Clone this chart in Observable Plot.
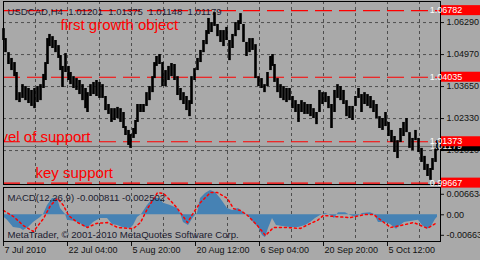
<!DOCTYPE html>
<html>
<head>
<meta charset="utf-8">
<script src="https://cdn.jsdelivr.net/npm/d3@7"></script>
<script src="https://cdn.jsdelivr.net/npm/@observablehq/plot@0.6"></script>
<style>
  html, body { margin: 0; padding: 0; background: #a9a9a9; }
  #chart { position: relative; width: 480px; height: 260px; overflow: hidden; background: #a9a9a9; }
  #chart > svg { position: absolute; left: 0; }
</style>
</head>
<body>
<div id="chart"></div>
<script>
// ---------- DATA (USDCAD H4, bar number counted from 7 Jul 2010) ----------
const priceBar = [
  0,2,5,8,11,13,16,19,22,25,
  28,31,34,37,40,42,44,46,49,52,
  55,57,59,62,65,67,70,73,76,79,
  82,84,87,90,93,96,99,102,105,108,
  111,114,117,120,122,125,127,130,132,134,
  137,140,143,146,149,151,153,156,159,162,
  165,168,171,174,177,180,183,186,188,191,
  194,197,200,203,205,208,211,214,217,220,
  223,226,229,232,235,237,240,243,246,249,
  252,255,258,261,264,267,269,271,274,277,
  280,283,286,289,292,295,298,301,304,307,
  310,313,316,319,322,325,328,331,334,337,
  340,343,346,349,352,355,358,361,364,367,
  370,373,376,379,382,385,388,391,394,397,
  400,403,406,409,412,415,418,421,424,427,
  429,432,434
];
const priceHigh = [
  1.0604,1.0563,1.0505,1.0481,1.0464,1.0423,1.0340,1.0373,1.0365,1.0357,
  1.0349,1.0357,1.0365,1.0373,1.0415,1.0464,1.0563,1.0580,1.0571,1.0555,
  1.0534,1.0493,1.0448,1.0501,1.0448,1.0423,1.0406,1.0398,1.0390,1.0373,
  1.0357,1.0340,1.0373,1.0382,1.0390,1.0382,1.0373,1.0324,1.0291,1.0274,
  1.0274,1.0279,1.0274,1.0258,1.0200,1.0184,1.0167,1.0192,1.0225,1.0291,
  1.0291,1.0291,1.0340,1.0365,1.0406,1.0464,1.0489,1.0497,1.0464,1.0431,
  1.0448,1.0460,1.0456,1.0406,1.0357,1.0340,1.0324,1.0307,1.0406,1.0439,
  1.0481,1.0514,1.0555,1.0596,1.0646,1.0629,1.0670,1.0621,1.0596,1.0596,
  1.0609,1.0555,1.0580,1.0629,1.0637,1.0666,1.0621,1.0547,1.0563,1.0563,
  1.0538,1.0406,1.0398,1.0373,1.0423,1.0489,1.0497,1.0456,1.0398,1.0373,
  1.0365,1.0357,1.0357,1.0324,1.0307,1.0291,1.0307,1.0299,1.0291,1.0291,
  1.0274,1.0258,1.0349,1.0340,1.0340,1.0324,1.0291,1.0349,1.0373,1.0365,
  1.0349,1.0307,1.0283,1.0283,1.0324,1.0357,1.0332,1.0340,1.0332,1.0324,
  1.0307,1.0291,1.0241,1.0233,1.0258,1.0217,1.0184,1.0159,1.0142,1.0192,
  1.0217,1.0233,1.0175,1.0151,1.0184,1.0151,1.0110,1.0077,1.0044,1.0027,
  1.0068,1.0110,1.0142
];
const priceLow = [
  1.0555,1.0505,1.0456,1.0431,1.0406,1.0307,1.0299,1.0316,1.0307,1.0295,
  1.0283,1.0274,1.0299,1.0307,1.0357,1.0390,1.0456,1.0530,1.0522,1.0505,
  1.0481,1.0431,1.0361,1.0423,1.0390,1.0373,1.0357,1.0349,1.0332,1.0307,
  1.0274,1.0258,1.0324,1.0332,1.0324,1.0316,1.0316,1.0266,1.0250,1.0217,
  1.0225,1.0233,1.0217,1.0192,1.0163,1.0122,1.0110,1.0151,1.0167,1.0217,
  1.0258,1.0258,1.0283,1.0307,1.0340,1.0398,1.0448,1.0456,1.0365,1.0365,
  1.0390,1.0406,1.0390,1.0328,1.0307,1.0291,1.0266,1.0241,1.0291,1.0390,
  1.0431,1.0464,1.0505,1.0538,1.0580,1.0588,1.0613,1.0571,1.0547,1.0530,
  1.0555,1.0472,1.0522,1.0571,1.0596,1.0621,1.0547,1.0489,1.0505,1.0514,
  1.0398,1.0365,1.0357,1.0340,1.0365,1.0431,1.0448,1.0382,1.0340,1.0316,
  1.0307,1.0299,1.0307,1.0274,1.0258,1.0217,1.0258,1.0250,1.0250,1.0241,
  1.0233,1.0208,1.0258,1.0291,1.0299,1.0274,1.0192,1.0258,1.0316,1.0307,
  1.0291,1.0241,1.0233,1.0225,1.0283,1.0316,1.0258,1.0291,1.0283,1.0274,
  1.0258,1.0233,1.0192,1.0184,1.0200,1.0159,1.0134,1.0093,1.0068,1.0134,
  1.0159,1.0175,1.0110,1.0101,1.0142,1.0093,1.0052,1.0019,0.9994,0.9978,
  1.0019,1.0052,1.0101
];

const histBar = [0,4,10,17,20,25,30,37,40,44,49,54,57,62,64,72,77,82,85,90,97,104,109,114,119,127,130,134,138,144,150,157,160,167,174,177,180,185,190,194,197,202,207,212,217,224,229,235,240,245,250,255,259,262,265,269,273,279,287,295,302,307,312,317,322,327,331,335,342,347,353,359,367,371,375,382,387,393,397,401,407,415,419,424,428,432,434];
const histValue = [-0.0006,-0.0018,-0.0041,-0.0044,-0.0051,-0.0041,-0.0025,-0.0009,0.0001,0.0030,0.0053,0.0053,0.0020,0.0001,-0.0018,-0.0022,-0.0028,-0.0041,-0.0041,-0.0025,-0.0012,-0.0012,-0.0031,-0.0035,-0.0041,-0.0044,-0.0035,-0.0009,0.0001,0.0030,0.0053,0.0053,0.0037,0.0030,0.0020,0.0004,-0.0025,-0.0035,-0.0009,0.0004,0.0053,0.0069,0.0079,0.0072,0.0053,0.0020,0.0014,0.0020,0.0007,-0.0002,-0.0025,-0.0041,-0.0067,-0.0074,-0.0044,-0.0012,-0.0035,-0.0038,-0.0041,-0.0041,-0.0035,-0.0025,-0.0012,-0.0002,0.0004,-0.0002,-0.0012,0.0007,0.0007,-0.0002,-0.0009,0.0004,0.0007,0.0001,-0.0025,-0.0025,-0.0031,-0.0047,-0.0035,-0.0025,-0.0022,-0.0018,-0.0035,-0.0047,-0.0038,-0.0015,-0.0008];

const signalBar = [0,10,20,30,40,47,54,60,65,74,84,93,104,114,124,130,137,144,154,160,167,174,184,190,197,207,214,224,230,237,244,254,262,270,282,297,307,314,320,332,347,362,370,374,387,397,410,424,432];
const signalValue = [0.0014,-0.0006,-0.0035,-0.0054,-0.0012,0.0030,0.0053,0.0030,-0.0002,-0.0025,-0.0041,-0.0028,-0.0025,-0.0041,-0.0044,-0.0044,-0.0025,0.0020,0.0072,0.0069,0.0046,0.0020,-0.0025,0.0007,0.0040,0.0072,0.0072,0.0053,0.0020,0.0014,-0.0002,-0.0035,-0.0067,-0.0041,-0.0041,-0.0044,-0.0028,-0.0018,-0.0002,-0.0006,-0.0009,0.0001,0.0001,-0.0009,-0.0041,-0.0035,-0.0025,-0.0044,-0.0028];

const priceTicks = [1.06290, 1.04970, 1.03650, 1.02330, 1.01010];
const levelPrices = [1.06782, 1.04035, 1.01373, 0.99667];
const currentPrice = 1.01179;
const macdTicks = [0.006634, 0, -0.006634];
const macdTickLabels = ["0.006634", "0.00", "-0.006634"];
const labelBars = [0, 64, 128, 192, 256, 320, 384];
const timeLabels = ["7 Jul 2010", "22 Jul 04:00", "5 Aug 20:00", "20 Aug 12:00", "6 Sep 04:00", "20 Sep 20:00", "5 Oct 12:00"];
const gridBars = [32, 64, 96, 128, 160, 192, 224, 256, 288, 320, 352, 384, 416];

const headerText = "USDCAD,H4  1.01201  1.01375  1.01148  1.01179";
const macdTitle = "MACD(12,26,9) -0.000811 -0.002502";
const copyright = "MetaTrader, \u00A9 2001-2010 MetaQuotes Software Corp.";
const noteStart = ["first growth object", "key support"];
const noteStartBar = [57, 32];
const noteStartPrice = [1.0619, 1.0006];
const noteEnd = ["level of support"];
const noteEndBar = [87];
const noteEndPrice = [1.0158];

// ---------- DRAWING ----------
const FONT = "'Liberation Sans', Arial, sans-serif";
const xDomain = [0, 437];
const gridStyle = {stroke: "#4e4e4e", strokeOpacity: 1, strokeDasharray: "3,3"};
const textColor = "#1b1b30";
const root = document.getElementById("chart");

const main = Plot.plot({
  width: 480, height: 186,
  marginLeft: 3, marginRight: 40, marginTop: 1, marginBottom: 2,
  style: {background: "transparent", fontFamily: FONT, fontSize: "9px", color: "#111", overflow: "visible"},
  x: {domain: xDomain, axis: null},
  y: {domain: [0.99610, 1.07159], axis: "right", ticks: priceTicks, tickFormat: d3.format(".5f"), tickSize: 3, tickPadding: 3, label: null},
  marks: [
    Plot.ruleX(gridBars, gridStyle),
    Plot.ruleY(priceTicks, gridStyle),
    Plot.ruleY([currentPrice], {stroke: "#6b6b6b", strokeWidth: 1}),
    Plot.ruleY(levelPrices, {stroke: "#ff0000", strokeWidth: 1.2, strokeDasharray: "17,7"}),
    Plot.text([headerText], {frameAnchor: "top-left", dx: 4, dy: 10, lineAnchor: "middle", textAnchor: "start", fill: textColor, fontSize: 9.6}),
    Plot.text(noteStart, {x: noteStartBar, y: noteStartPrice, text: noteStart, textAnchor: "start", lineAnchor: "middle", fill: "#ff0000", fontSize: 15, clip: true}),
    Plot.text(noteEnd, {x: noteEndBar, y: noteEndPrice, text: noteEnd, textAnchor: "end", lineAnchor: "middle", fill: "#ff0000", fontSize: 15, clip: true}),
    Plot.ruleX(priceBar, {x: priceBar, y1: priceLow, y2: priceHigh, stroke: "#000", strokeWidth: 2.6}),
    Plot.frame({stroke: "#000"})
  ]
});
main.style.top = "0px";
root.append(main);

// price label boxes on the right axis (current price and red levels)
(function () {
  const ys = main.scale("y"), xs = main.scale("x");
  const y = d3.scaleLinear().domain(ys.domain).range(ys.range);
  const x0 = xs.range[1] + 1;
  const g = d3.select(main).append("g").attr("font-family", FONT).attr("font-size", 9);
  const items = [{v: currentPrice, bg: "#000000", fg: "#e8e8e8"}].concat(levelPrices.map(v => ({v, bg: "#ff0000", fg: "#ffffff"})));
  for (const it of items) {
    const yy = y(it.v);
    g.append("rect").attr("x", x0).attr("y", yy - 5).attr("width", 42).attr("height", 10).style("fill", it.bg);
    g.append("text").attr("x", x0 + 5).attr("y", yy).attr("dy", "0.34em").style("fill", it.fg).text(d3.format(".5f")(it.v));
  }
})();

const macd = Plot.plot({
  width: 480, height: 74,
  marginLeft: 3, marginRight: 40, marginTop: 1, marginBottom: 19,
  style: {background: "transparent", fontFamily: FONT, fontSize: "9px", color: "#111", overflow: "visible"},
  x: {domain: xDomain, axis: "bottom", ticks: labelBars, tickSize: 5, tickFormat: () => "", label: null},
  y: {domain: [-0.00864, 0.00883], axis: "right", ticks: macdTicks, tickFormat: d => macdTickLabels[macdTicks.indexOf(d)], tickSize: 3, tickPadding: 3, label: null},
  marks: [
    Plot.ruleX(gridBars, gridStyle),
    Plot.areaY(histBar, {x: histBar, y: histValue, fill: "#4682b4"}),
    Plot.line(signalBar, {x: signalBar, y: signalValue, stroke: "#ff0000", strokeWidth: 1.5, strokeDasharray: "2,3"}),
    Plot.text([macdTitle], {frameAnchor: "top-left", dx: 4, dy: 10, lineAnchor: "middle", textAnchor: "start", fill: textColor, fontSize: 9.6}),
    Plot.text([copyright], {frameAnchor: "bottom-left", dx: 4, dy: -7, lineAnchor: "middle", textAnchor: "start", fill: textColor, fontSize: 9.6, clip: true}),
    Plot.frame({stroke: "#000"}),
    Plot.text(timeLabels, {x: labelBars, text: timeLabels, frameAnchor: "bottom", dy: 9, dx: 1, lineAnchor: "middle", textAnchor: "start", fill: "#111", fontSize: 9})
  ]
});
macd.style.top = "186px";
root.append(macd);
</script>
</body>
</html>
